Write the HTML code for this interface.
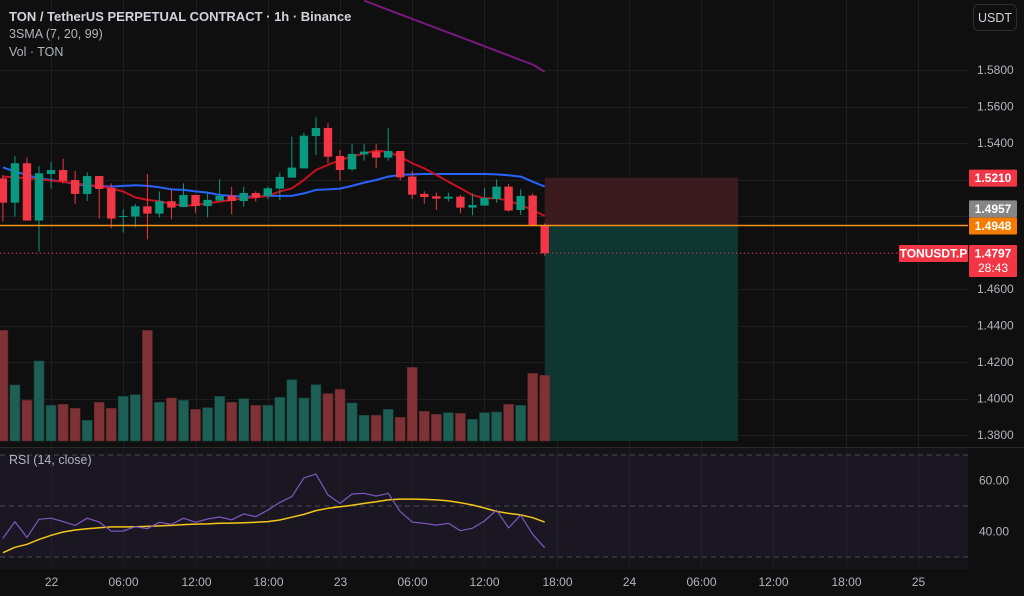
<!DOCTYPE html>
<html><head><meta charset="utf-8">
<style>
html,body{margin:0;padding:0;background:#0f0f0f;}
svg{display:block;font-family:"Liberation Sans",sans-serif;}
</style></head>
<body>
<svg id="chart" width="1024" height="596" viewBox="0 0 1024 596" xmlns="http://www.w3.org/2000/svg">
<rect x="0" y="0" width="1024" height="596" fill="#0f0f0f"/>
<rect x="0" y="448" width="968" height="121" fill="#151419"/>
<g id="grid"></g>
<g id="pos"></g>
<g id="vol"></g>
<g id="ma"></g>
<g id="candles"></g>
<g id="rsi"></g>
<g id="axes"></g>
<line x1="0" y1="447.5" x2="1024" y2="447.5" stroke="#2a2a2a"/>
<text x="9" y="21" fill="#d1d4dc" font-size="13" font-weight="bold">TON / TetherUS PERPETUAL CONTRACT · 1h · Binance</text>
<text x="9" y="38" fill="#b2b5be" font-size="12.5">3SMA (7, 20, 99)</text>
<text x="9" y="56" fill="#b2b5be" font-size="12.5">Vol · TON</text>
<text x="9" y="464" fill="#b2b5be" font-size="12.5">RSI (14, close)</text>
<rect x="973.5" y="4.5" width="43" height="26" rx="5" fill="#0f0f0f" stroke="#2e2e2e"/>
<text x="995" y="22" fill="#d1d4dc" font-size="12.5" text-anchor="middle">USDT</text>
</svg>
<script>
const opens  =[1.5206,1.5073,1.5289,1.4975,1.5230,1.5252,1.5197,1.5121,1.5219,1.5154,1.5000,1.4997,1.5053,1.5013,1.5081,1.5049,1.5115,1.5055,1.5084,1.5112,1.5082,1.5126,1.5110,1.5150,1.5210,1.5261,1.5438,1.5482,1.5329,1.5256,1.5338,1.5353,1.5320,1.5356,1.5216,1.5121,1.5108,1.5095,1.5106,1.5046,1.5057,1.5093,1.5161,1.5033,1.5112,1.4947];
const closes =[1.5073,1.5289,1.4975,1.5234,1.5252,1.5192,1.5121,1.5219,1.5148,1.4986,1.5000,1.5053,1.5013,1.5081,1.5046,1.5115,1.5055,1.5088,1.5110,1.5082,1.5126,1.5101,1.5152,1.5214,1.5265,1.5440,1.5482,1.5325,1.5252,1.5340,1.5353,1.5320,1.5356,1.5212,1.5117,1.5104,1.5095,1.5106,1.5046,1.5060,1.5099,1.5161,1.5030,1.5110,1.4947,1.4796];
const highs  =[1.5225,1.5329,1.5321,1.5274,1.5296,1.5314,1.5247,1.5239,1.5219,1.5179,1.5037,1.5066,1.5230,1.5135,1.5146,1.5179,1.5117,1.5135,1.5201,1.5159,1.5161,1.5135,1.5161,1.5238,1.5435,1.5457,1.5541,1.5508,1.5362,1.5395,1.5395,1.5395,1.5482,1.5356,1.5247,1.5135,1.5128,1.5128,1.5115,1.5124,1.5152,1.5201,1.5175,1.5146,1.5124,1.4960];
const lows   =[1.4969,1.4997,1.4975,1.4805,1.5150,1.5179,1.5066,1.5082,1.4986,1.4933,1.4909,1.4938,1.4872,1.4993,1.4982,1.5048,1.5015,1.4993,1.5084,1.5009,1.5051,1.5079,1.5092,1.5088,1.5210,1.5261,1.5334,1.5289,1.5194,1.5248,1.5303,1.5261,1.5303,1.5194,1.5093,1.5068,1.5033,1.5079,1.5015,1.5004,1.5057,1.5073,1.5024,1.5006,1.4947,1.4783];
const volumes=[664,336,244,480,214,220,196,124,232,196,268,278,664,232,258,244,190,200,268,232,254,214,214,262,368,258,338,284,310,228,154,154,190,142,442,178,160,170,166,130,170,174,220,214,406,394];
const sma7   =[1.5216,1.5212,1.5206,1.5201,1.5194,1.5188,1.5179,1.5170,1.5165,1.5152,1.5134,1.5102,1.5088,1.5081,1.5066,1.5057,1.5059,1.5070,1.5079,1.5088,1.5097,1.5102,1.5110,1.5134,1.5152,1.5197,1.5252,1.5280,1.5307,1.5325,1.5343,1.5358,1.5351,1.5325,1.5289,1.5261,1.5225,1.5188,1.5152,1.5115,1.5097,1.5097,1.5084,1.5060,1.5033,1.5000];
const sma20  =[1.5267,1.5243,1.5225,1.5206,1.5197,1.5188,1.5175,1.5165,1.5165,1.5161,1.5165,1.5168,1.5165,1.5157,1.5146,1.5143,1.5135,1.5128,1.5115,1.5110,1.5106,1.5106,1.5110,1.5110,1.5110,1.5124,1.5143,1.5146,1.5150,1.5165,1.5183,1.5197,1.5216,1.5225,1.5228,1.5230,1.5230,1.5230,1.5230,1.5230,1.5230,1.5228,1.5223,1.5216,1.5188,1.5161];
const sma99Start=30;
const sma99  =[1.6180,1.6155,1.6130,1.6105,1.6080,1.6055,1.6030,1.6005,1.5980,1.5955,1.5930,1.5905,1.5880,1.5855,1.5830,1.5790];
const rsiVals=[37.3,43.9,37.7,44.8,45.2,43.9,42.4,45.2,43.7,40.1,40.2,41.9,41.1,43.6,42.8,45.2,43.6,44.9,45.7,44.6,46.9,45.8,48.4,51.4,53.7,61.0,62.5,54.3,51.0,54.7,55.0,53.9,55.0,47.8,43.7,43.2,42.5,43.2,40.3,41.3,44.1,48.4,41.4,46.4,38.9,33.6];
const rsiMA  =[31.7,33.8,35.0,36.9,38.5,39.8,40.6,41.1,41.5,41.8,41.8,41.9,42.0,42.2,42.4,42.7,42.9,43.0,43.2,43.3,43.4,43.6,43.9,44.5,45.6,46.7,48.2,49.1,49.7,50.3,51.0,51.7,52.4,52.7,52.7,52.6,52.4,52.0,51.3,50.4,49.2,47.9,47.1,46.5,45.4,43.7];
const priceTicks=["1.6000","1.5800","1.5600","1.5400","1.5200","1.5000","1.4800","1.4600","1.4400","1.4200","1.4000","1.3800"];
const rsiTicks=["60.00","40.00"];
const timeLabels=["22","06:00","12:00","18:00","23","06:00","12:00","18:00","24","06:00","12:00","18:00","25"];
const lastPrice=1.4797, entryPrice=1.4948, stopPrice=1.5210, targetPrice=1.3767, markPrice=1.4957;

const NS="http://www.w3.org/2000/svg";
const X=i=>2.9+12.04*i;
const Y=p=>70+(1.58-p)/0.02*36.5;
const VY=v=>441-v/6;
const RY=r=>506-(r-50)*2.55;
function mk(tag,attrs,parent,text){const e=document.createElementNS(NS,tag);for(const k in attrs)e.setAttribute(k,attrs[k]);if(text!==undefined)e.textContent=text;parent.appendChild(e);return e;}
const G=id=>document.getElementById(id);

// grid
const grid=G('grid');
priceTicks.forEach(t=>{const y=Math.round(Y(parseFloat(t)))+0.5;if(y>40&&y<445){const l=mk('line',{x1:0,x2:968,y1:y,y2:y,stroke:'#1e1e1e'},grid);

}});
timeLabels.forEach((t,k)=>{const x=Math.round(X(4)+k*72.24)+0.5;const l=mk('line',{x1:x,x2:x,y1:0,y2:569,stroke:'#1e1e1e'},grid);


const tx=mk('text',{x:x,y:586,fill:'#b2b5be','font-size':12,'text-anchor':'middle'},G('axes'),t);

});
[70,50,30].forEach(r=>{const l=mk('line',{x1:0,x2:968,y1:RY(r),y2:RY(r),stroke:'#4a4a50','stroke-dasharray':'5,4'},G('rsi'));

});
const band=mk('rect',{x:0,y:RY(70),width:968,height:RY(30)-RY(70),fill:'rgba(126,87,194,0.06)'},G('rsi'));



// position tool
const pos=G('pos');const px1=X(45),px2=738;
const rz=mk('rect',{x:px1,y:Y(stopPrice),width:px2-px1,height:Y(entryPrice)-Y(stopPrice),fill:'#3b1b20'},pos);


const gz=mk('rect',{x:px1,y:Y(entryPrice),width:px2-px1,height:Y(targetPrice)-Y(entryPrice),fill:'#0f3630'},pos);



// volume
const vol=G('vol');
volumes.forEach((v,i)=>{const up=closes[i]>=opens[i];const r=mk('rect',{x:X(i)-5,y:VY(v),width:10,height:441-VY(v),fill:up?'#1d5e55':'#7f3236',stroke:up?'#14443d':'#5c2428','stroke-width':0.6},vol);

});

// lines
function poly(vals,off,yf,color,w,parent,name){const pts=vals.map((v,i)=>X(i+off).toFixed(1)+','+yf(v).toFixed(1)).join(' ');const p=mk('polyline',{points:pts,fill:'none',stroke:color,'stroke-width':w,'stroke-linejoin':'round'},parent);

}
poly(sma20,0,Y,'#2962ff',2,G('ma'),'sma-20-line');
poly(sma7,0,Y,'#c8101e',2,G('ma'),'sma-7-line');
poly(sma99,sma99Start,Y,'#7b1880',2,G('ma'),'sma-99-line');

// orange / last price lines
const ol=mk('line',{x1:0,x2:968,y1:Y(entryPrice),y2:Y(entryPrice),stroke:'#f7931a','stroke-width':1.6},G('axes'));


const dl=mk('line',{x1:0,x2:900,y1:Y(lastPrice),y2:Y(lastPrice),stroke:'#f23645','stroke-width':1,'stroke-dasharray':'1,3'},G('axes'));



// candles
const cg=G('candles');
opens.forEach((o,i)=>{const c=closes[i],up=c>=o,col=up?'#089981':'#f23645',x=X(i);
const w=mk('line',{x1:x,x2:x,y1:Y(highs[i]),y2:Y(lows[i]),stroke:col,'stroke-width':1},cg);


const t=Math.min(Y(o),Y(c)),h=Math.max(1,Math.abs(Y(o)-Y(c)));
const b=mk('rect',{x:x-4.2,y:t,width:8.4,height:h,fill:col},cg);

});

// rsi
poly(rsiMA,0,RY,'#f5c518',1.5,G('rsi'),'rsi-ma-line');
poly(rsiVals,0,RY,'#7e57c2',1.2,G('rsi'),'rsi-line');

// axis labels
const ax=G('axes');
const tagPrices=[stopPrice,markPrice,entryPrice,lastPrice];
priceTicks.forEach(t=>{const p=parseFloat(t),y=Y(p);
if(y>38&&y<445&&!tagPrices.some(q=>Math.abs(Y(q)-y)<26)){const tx=mk('text',{x:977,y:y+4,fill:'#b2b5be','font-size':12},ax,t);

}});
rsiTicks.forEach(t=>{const tx=mk('text',{x:979,y:RY(parseFloat(t))+4,fill:'#b2b5be','font-size':12},ax,t);

});
function tag(price,bg,fg,name,h,extra,shift){const y=Y(price)+(shift||0);const r=mk('rect',{x:969,y:y-8,width:48,height:h,fill:bg,rx:1},ax);


const tx=mk('text',{x:993,y:y+4.5,fill:fg,'font-size':12,'text-anchor':'middle','font-weight':'bold'},ax,price.toFixed(4));


if(extra){const e=mk('text',{x:993,y:y+19,fill:fg,'font-size':12,'text-anchor':'middle'},ax,extra);

}}
tag(stopPrice,'#f23645','#fff','stop-price-tag',17);
tag(markPrice,'#868686','#fff','mark-price-tag',17,null,-15.5);
tag(entryPrice,'#f57c00','#fff','entry-price-tag',17);
tag(lastPrice,'#f23645','#fff','last-price-tag',32,'28:43');
const sy=Y(lastPrice);
const sr=mk('rect',{x:899,y:sy-8,width:69,height:17,fill:'#f23645',rx:1},ax);


const st=mk('text',{x:933.5,y:sy+4.5,fill:'#fff','font-size':12,'text-anchor':'middle','font-weight':'bold'},ax,'TONUSDT.P');


</script>
</body></html>
